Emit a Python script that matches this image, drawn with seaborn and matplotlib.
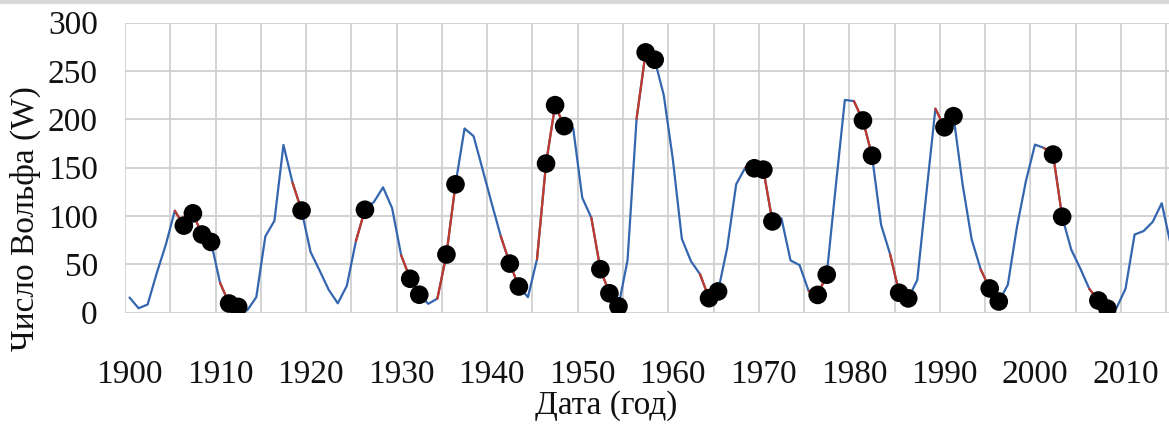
import numpy as np
import pandas as pd
import matplotlib
matplotlib.use("Agg")
import matplotlib.pyplot as plt
import seaborn as sns

# годовые числа Вольфа, 1900-2015
years = list(range(1900, 2016))
wolf = [15.7, 4.6, 8.5, 40.8, 70.1, 105.5, 90.1, 102.8, 80.9, 73.2,
        30.9, 9.5, 6.0, 2.4, 16.1, 79.0, 95.0, 173.6, 134.6, 105.7,
        62.7, 43.5, 23.7, 9.7, 27.9, 74.0, 106.5, 114.7, 129.7, 108.2,
        59.4, 35.1, 18.6, 9.2, 14.6, 60.2, 132.8, 190.6, 182.6, 148.0,
        113.0, 79.2, 50.8, 27.1, 16.1, 55.3, 154.3, 214.7, 193.0, 190.7,
        118.9, 98.3, 45.0, 20.1, 6.6, 54.2, 200.7, 269.3, 261.7, 225.1,
        159.0, 76.4, 53.4, 39.9, 15.0, 22.0, 66.8, 132.9, 150.0, 149.4,
        148.0, 94.4, 97.6, 54.1, 49.2, 22.5, 18.4, 39.3, 131.0, 220.1,
        218.9, 198.9, 162.4, 91.0, 60.5, 20.6, 14.8, 33.9, 123.0, 211.1,
        191.8, 203.3, 133.0, 76.1, 44.9, 25.1, 11.6, 28.9, 88.3, 136.3,
        173.9, 170.4, 163.6, 99.3, 65.3, 45.8, 24.7, 12.6, 4.2, 4.8,
        24.9, 80.8, 84.5, 94.0, 113.3, 69.8]

# годы, отмеченные точками
event_years = [1906, 1907, 1908, 1909, 1911, 1912, 1919, 1926, 1931, 1932,
               1935, 1936, 1942, 1943, 1946, 1947, 1948, 1952, 1953, 1954,
               1957, 1958, 1964, 1965, 1969, 1970, 1971, 1976, 1977, 1981,
               1982, 1985, 1986, 1990, 1991, 1995, 1996, 2002, 2003, 2007,
               2008]

y_ticks = [0, 50, 100, 150, 200, 250, 300]
x_labels = list(range(1900, 2011, 10))

df = pd.DataFrame({"year": years, "W": wolf})
dots = df[df["year"].isin(event_years)]

# красные отрезки: от предыдущего года до отмеченного
seg_rows = []
for i, y in enumerate(event_years):
    for yy in (y - 1, y):
        seg_rows.append({"seg": i, "year": yy, "W": wolf[years.index(yy)]})
segs = pd.DataFrame(seg_rows)

sns.set_theme(style="white")
plt.rcParams["font.family"] = ["Liberation Serif", "DejaVu Serif"]

fig = plt.figure(figsize=(11.69, 4.26), dpi=100)
ax = fig.add_axes([125 / 1169, 1 - 312.7 / 426, 1 - 125 / 1169, 290 / 426])

grid_c = "#d0d0d0"
txt_c = "#111111"
sns.lineplot(data=df, x="year", y="W", color="#3466b0", lw=1.6, ax=ax, zorder=3)
sns.lineplot(data=segs, x="year", y="W", units="seg", estimator=None,
             color="#c0392b", lw=1.6, ax=ax, zorder=4)
sns.scatterplot(data=dots, x="year", y="W", color="black", s=180,
                edgecolor="none", ax=ax, zorder=5)

ax.set_xlim(1899.5, 2014.8)
ax.set_ylim(0, 300)
ax.set_xticks(np.arange(1899.5, 2015, 5))
ax.set_xticklabels([])
ax.set_xticks(x_labels, minor=True)
ax.set_xticklabels([str(v) for v in x_labels], minor=True)
ax.set_yticks(y_ticks)
ax.set_yticklabels([str(v) for v in y_ticks])

ax.grid(True, which="major", color=grid_c, lw=1.3)
ax.tick_params(axis="both", which="major", length=8.6, width=1.3, color=grid_c,
               direction="out", labelsize=24, labelcolor=txt_c)
ax.tick_params(axis="y", which="major", pad=11)
ax.tick_params(axis="x", which="minor", length=0, pad=34, labelsize=24,
               labelcolor=txt_c)
for s in ax.spines.values():
    s.set_visible(False)

ax.set_xlabel("")
ax.set_ylabel("")
fig.text(25 / 1169, 1 - 219 / 426, "Число Вольфа (W)", rotation=90,
         ha="center", va="center", fontsize=24, color=txt_c)
fig.text(606 / 1169, 1 - 406 / 426, "Дата (год)", ha="center", va="center",
         fontsize=24, color=txt_c)

# серая полоса сверху
fig.add_artist(plt.Line2D([0, 1], [1 - 2 / 426, 1 - 2 / 426],
                          color="#d9d9d9", lw=3, transform=fig.transFigure))

fig.savefig("out.png", dpi=100)
